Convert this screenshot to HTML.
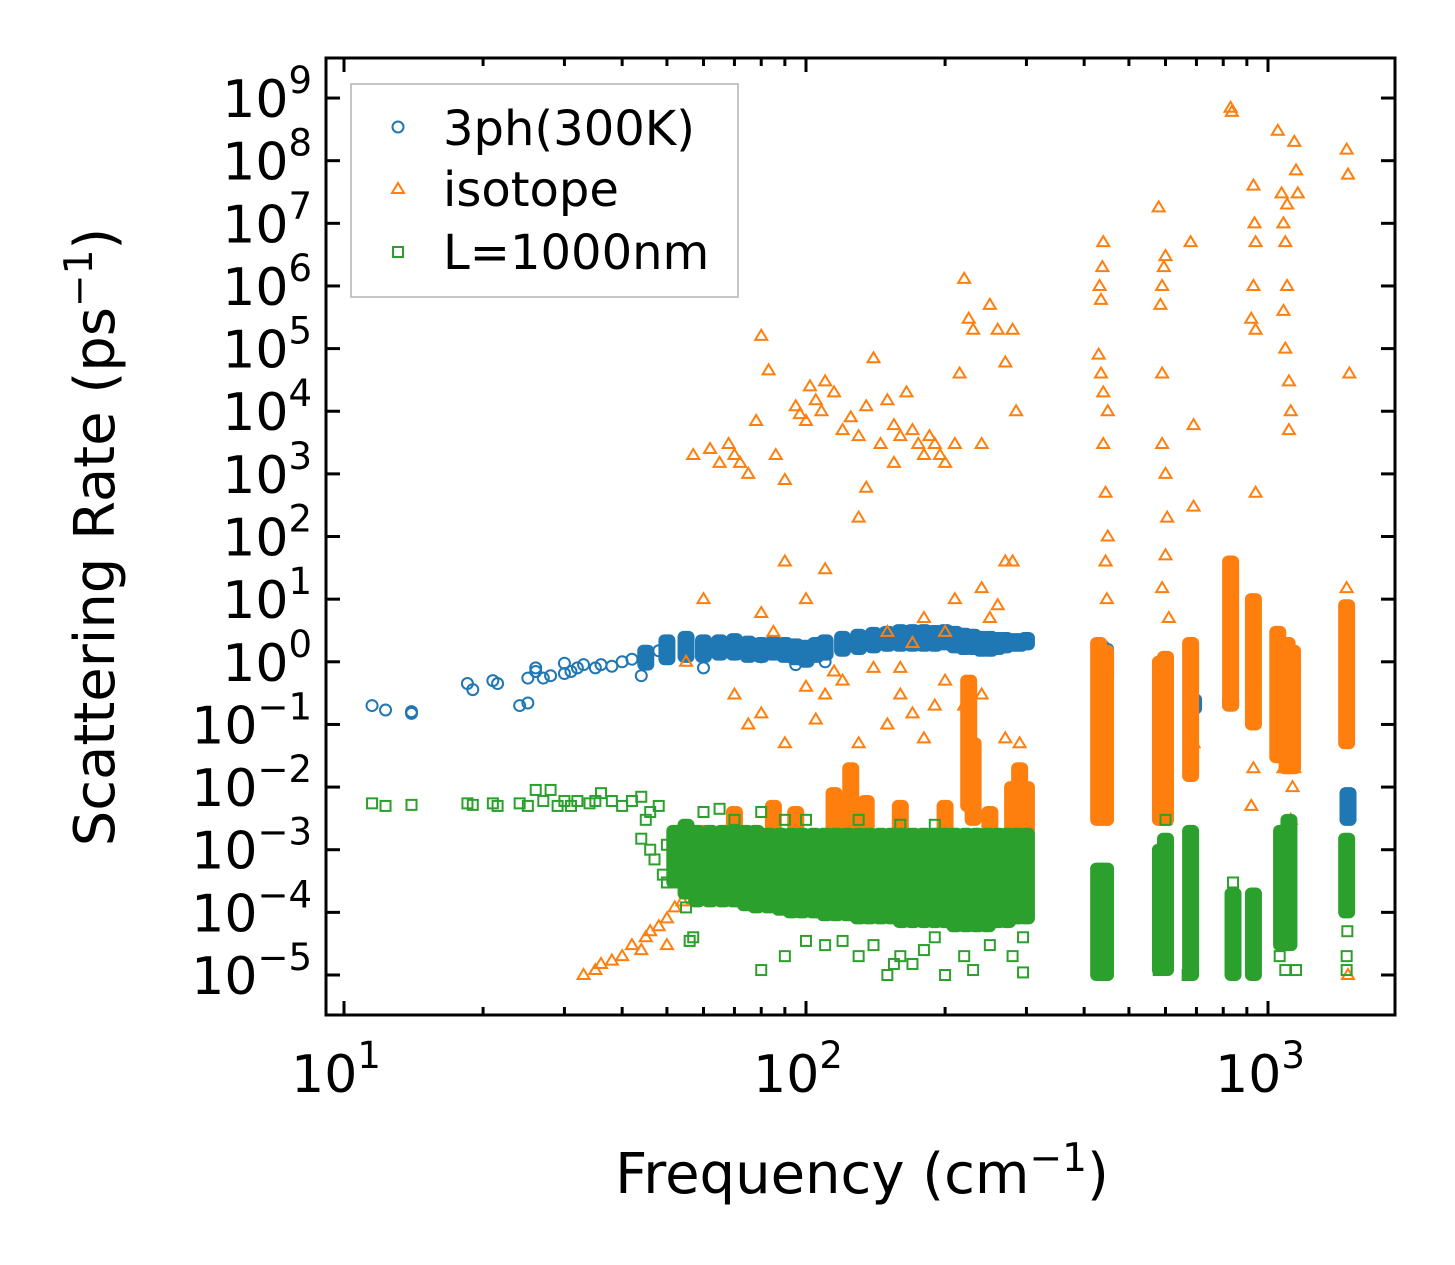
<!DOCTYPE html>
<html><head><meta charset="utf-8"><style>
body{margin:0;background:#fff}
svg{display:block;font-family:"DejaVu Sans","Liberation Sans",sans-serif}
</style></head><body>
<svg id="chart" width="1455" height="1265" viewBox="0 0 1455 1265">
<rect width="1455" height="1265" fill="#fff"/>
<g id="marks"></g>
<g id="axes"></g>
<rect x="326" y="58" width="1069" height="957" fill="none" stroke="#000" stroke-width="3"/>
<text x="862" y="1193" font-size="56" text-anchor="middle">Frequency (cm<tspan dy="-22" font-size="39">−1</tspan><tspan dy="22">)</tspan></text>
<text transform="translate(114,537) rotate(-90)" font-size="56" text-anchor="middle">Scattering Rate (ps<tspan dy="-22" font-size="39">−1</tspan><tspan dy="22">)</tspan></text>
<g>
<rect x="351" y="84" width="387" height="213" fill="#fff" stroke="#aaa" stroke-width="1.5" opacity="0.9"/>
<circle cx="398" cy="127" r="5.5" fill="none" stroke="#1f77b4" stroke-width="2"/>
<text x="443" y="145" font-size="48">3ph(300K)</text>
<path d="M398,183 L404,193 L392,193 Z" fill="none" stroke="#ff7f0e" stroke-width="2"/>
<text x="443" y="206" font-size="48">isotope</text>
<rect x="393" y="247" width="10" height="10" fill="none" stroke="#2ca02c" stroke-width="2"/>
<text x="443" y="269" font-size="48">L=1000nm</text>
</g>
</svg>
<script>
const xTickExps=[1,2,3];
const yTickExps=[9,8,7,6,5,4,3,2,1,0,-1,-2,-3,-4,-5];
// blue 3ph
const blueFreq=[11.5,12.3,14,14,18.5,19,21,21.5,24,25,25,26,26,27,28,30,30,31,32,33,35,36,38,40,42,44,48,60,80,95,110];
const blueRate=[0.2,0.17,0.16,0.15,0.45,0.36,0.5,0.45,0.2,0.22,0.55,0.7,0.8,0.55,0.6,0.65,0.95,0.7,0.8,0.9,0.8,0.9,0.85,1.0,1.1,0.6,1.5,0.8,1.2,0.9,1.0];
const blueCluster=[[45,0.9,1.5],[50,1.1,2.2],[55,1.2,2.5],[60,1.2,2.2],[65,1.3,2.2],[70,1.3,2.3],[75,1.2,2.1],[80,1.2,2.0],[85,1.3,2.1],[90,1.2,2.0],[95,1.1,1.9],[100,1.0,1.8],[105,1.2,2.0],[110,1.3,2.2],[120,1.5,2.5],[130,1.6,2.7],[140,1.7,2.9],[150,1.8,3.0],[160,1.8,3.2],[170,1.8,3.2],[180,1.8,3.2],[190,1.8,3.1],[200,1.9,3.2],[210,1.7,3.0],[220,1.6,2.8],[230,1.6,2.7],[240,1.5,2.5],[250,1.5,2.5],[260,1.6,2.4],[270,1.7,2.4],[280,1.8,2.3],[290,1.8,2.3],[300,1.9,2.4],[435,0.6,1.8],[445,0.6,1.6],[590,0.4,1.0],[600,0.35,0.9],[690,0.18,0.25],[830,0.2,0.25],[1080,0.6,1.0],[1130,0.6,1.0],[1490,0.003,0.008]];
// orange isotope
const orangeFreq=[57,62,65,68,70,72,75,78,80,83,86,90,95,97,100,102,105,108,110,115,120,125,130,135,140,145,150,155,160,165,170,175,180,185,190,195,200,210,215,220,225,230,240,250,260,270,280,285,135,155,
90,100,110,130,150,160,170,180,200,210,220,240,250,260,270,280,80,85,55,60,70,75,80,90,100,110,120,130,140,150,160,170,180,190,200,240,270,290,115,105,
33,35,36,38,40,42,44,46,48,50,52,54,45,50,55,58,
430,432,435,440,438,435,440,445,450,445,448,440,450,580,590,595,600,585,590,600,605,600,590,610,590,680,690,690,830,835,920,930,935,940,930,940,940,1050,1070,1080,1090,1100,1100,1080,1090,1110,1110,1120,1140,1150,1160,1080,1130,1480,1490,1500,1480,1490,930,935,920,1120,1140,600,690];
const orangeRate=[2e3,2.5e3,1.5e3,3e3,2e3,1.5e3,1e3,7e3,1.6e5,4.5e4,2e3,800,1.2e4,9e3,7e3,2.5e4,1.5e4,1e4,3e4,2e4,5e3,8e3,4e3,1.2e4,7e4,3e3,1.5e4,6e3,4e3,2e4,5e3,3e3,2e3,4e3,3e3,2e3,1.5e3,3e3,4e4,1.3e6,3e5,2e5,3e3,5e5,2e5,6e4,2e5,1e4,600,1.5e3,
40,10,30,200,3,0.8,2,5,3,10,0.2,15,5,8,40,40,6,3,1,10,0.3,0.1,0.15,0.05,0.4,0.3,0.5,0.05,0.8,0.1,0.3,0.15,0.06,0.2,0.5,0.3,0.06,0.05,0.7,0.12,
1e-5,1.2e-5,1.5e-5,1.7e-5,2e-5,3e-5,2.5e-5,5e-5,6e-5,8e-5,1.2e-4,1.5e-4,4e-5,3e-5,2e-4,3e-4,
8e4,1e6,6e5,5e6,2e6,4e4,3e3,500,100,40,10,2e4,1e4,1.8e7,1e6,2e6,3e6,5e5,3e3,1e3,200,50,15,5,4e4,5e6,300,6e3,7e8,6e8,3e5,4e7,1e7,5e6,1e6,2e5,500,3e8,3e7,1e7,5e6,2e7,1e6,4e5,1e5,3e4,5e3,1e4,2e8,7e7,3e7,0.02,0.01,1.5e8,6e7,4e4,15,1e-5,0.02,0.5,0.005,0.003,0.02,0.003,0.05];
const orangeCluster=[[60,2e-4,2e-3],[70,3e-4,4e-3],[85,5e-4,5e-3],[95,5e-4,4e-3],[115,2e-3,8e-3],[125,2e-3,2e-2],[135,2e-3,6e-3],[160,1e-3,5e-3],[200,1e-3,5e-3],[225,5e-3,0.5],[230,3e-3,0.05],[250,1e-3,4e-3],[280,2e-3,1e-2],[290,2e-3,2e-2],[300,2e-3,1e-2],[430,3e-3,2],[445,3e-3,1.5],[585,3e-3,1.0],[600,3e-3,1.2],[680,0.015,2],[830,0.2,40],[930,0.1,10],[1050,0.03,3],[1100,0.02,2],[1130,0.02,1.5],[1480,0.05,8]];
// green boundary
const greenFreq=[11.5,12.3,14,18.5,19,21,21.5,24,25,26,28,27,29,30,31,32,34,35,36,38,40,42,44,46,48,45,44,46,47,50,52,49,50,55,56,57,80,90,100,110,120,130,140,150,155,160,170,180,190,200,220,230,250,280,295,295,75,70,80,90,100,130,160,190,60,65,840,1480,1480,1485,1090,1060,1150,670,580,600];
const greenRate=[5.5e-3,5e-3,5.2e-3,5.5e-3,5.2e-3,5.5e-3,5e-3,5.5e-3,5e-3,9e-3,9e-3,6e-3,5e-3,6e-3,5e-3,6e-3,5.5e-3,6e-3,8e-3,6e-3,5e-3,6e-3,7e-3,4e-3,5e-3,3e-3,1.5e-3,1e-3,7e-4,1.2e-3,8e-4,4e-4,3e-4,1.2e-4,3.5e-5,4e-5,1.2e-5,2e-5,3.5e-5,3e-5,3.5e-5,2e-5,3e-5,1e-5,1.5e-5,2e-5,1.5e-5,2.5e-5,4e-5,1e-5,2e-5,1.2e-5,3e-5,2e-5,1.1e-5,4e-5,3e-4,3e-3,4e-3,3e-3,3e-3,3e-3,2.5e-3,2.5e-3,4e-3,4.5e-3,3e-4,2e-5,1.2e-5,5e-5,1.2e-5,2e-5,1.2e-5,1e-5,1.2e-5,3e-3];
const greenCluster=[[52,3e-4,2e-3],[55,2e-4,2.5e-3],[58,1.5e-4,2e-3],[62,1.5e-4,2e-3],[66,1.5e-4,2e-3],[70,1.5e-4,2e-3],[74,1.3e-4,2e-3],[78,1.2e-4,2e-3],[83,1.2e-4,1.8e-3],[88,1.1e-4,1.8e-3],[93,1e-4,1.8e-3],[98,1e-4,1.8e-3],[104,1e-4,1.8e-3],[110,9e-5,1.8e-3],[116,9e-5,1.8e-3],[123,9e-5,1.8e-3],[130,8e-5,1.8e-3],[137,8e-5,1.8e-3],[145,8e-5,1.8e-3],[153,8e-5,1.8e-3],[161,7e-5,1.8e-3],[170,7e-5,1.8e-3],[180,7e-5,1.8e-3],[190,7e-5,1.8e-3],[200,7e-5,1.8e-3],[210,6e-5,1.8e-3],[222,6e-5,1.8e-3],[234,6e-5,1.8e-3],[247,6e-5,1.8e-3],[260,7e-5,1.8e-3],[273,7e-5,1.8e-3],[287,8e-5,1.8e-3],[300,8e-5,1.8e-3],[430,1e-5,5e-4],[445,1e-5,5e-4],[585,1.2e-5,1e-3],[600,1.2e-5,1.5e-3],[680,1e-5,2e-3],[840,1e-5,2e-4],[930,1e-5,2e-4],[1070,3e-5,2e-3],[1110,3e-5,3e-3],[1480,1e-4,1.5e-3]];

const NS='http://www.w3.org/2000/svg';
function X(f){return 344+462*(Math.log10(f)-1);}
function Y(v){return 975-62.64*(Math.log10(v)+5);}
const marks=document.getElementById('marks');
const axes=document.getElementById('axes');
function mk(tag,attrs,parent){const e=document.createElementNS(NS,tag);for(const k in attrs)e.setAttribute(k,attrs[k]);parent.appendChild(e);return e;}
const C={b:'#1f77b4',o:'#ff7f0e',g:'#2ca02c'};
function cluster(arr,color,name){
  arr.forEach(c=>{
    const x=X(c[0]),y1=Y(c[2]),y2=Y(c[1]);
    const r=mk('rect',{x:x-8.5,y:y1-6,width:17,height:(y2-y1)+12,rx:6,fill:color},marks);
    
    
  });
}
function circle(f,v){const e=mk('circle',{cx:X(f),cy:Y(v),r:5.5,fill:'none',stroke:C.b,'stroke-width':2},marks);
  
  }
function tri(f,v){const x=X(f),y=Y(v);const e=mk('path',{d:`M${x},${y-6} L${x+6},${y+4} L${x-6},${y+4} Z`,fill:'none',stroke:C.o,'stroke-width':2},marks);
  
  }
function sq(f,v){const x=X(f),y=Y(v);const e=mk('rect',{x:x-5,y:y-5,width:10,height:10,fill:'none',stroke:C.g,'stroke-width':2},marks);
  
  }
cluster(blueCluster,C.b,'cluster-3ph');
blueFreq.forEach((f,i)=>circle(f,blueRate[i]));
cluster(orangeCluster,C.o,'cluster-isotope');
orangeFreq.forEach((f,i)=>tri(f,orangeRate[i]));
cluster(greenCluster,C.g,'cluster-boundary');
greenFreq.forEach((f,i)=>sq(f,greenRate[i]));

// x ticks
for(let d=0;d<=3;d++){
  for(let m=1;m<10;m++){
    const f=m*Math.pow(10,d);const x=X(f);
    if(x<327||x>1394)continue;
    const L=m===1?14:8;
    const t1=mk('line',{x1:x,x2:x,y1:1015,y2:1015-L,stroke:'#000','stroke-width':3},axes);
    
    
    const t2=mk('line',{x1:x,x2:x,y1:58,y2:58+L,stroke:'#000','stroke-width':3},axes);
    
    
  }
}
xTickExps.forEach(e=>{
  const t=mk('text',{x:X(Math.pow(10,e))-8,y:1092,'font-size':52,'text-anchor':'middle'},axes);
  
  
  t.innerHTML='10<tspan dy="-24" font-size="37">'+e+'</tspan>';
});
yTickExps.forEach(e=>{
  const y=Y(Math.pow(10,e));
  const a=mk('line',{x1:326,x2:340,y1:y,y2:y,stroke:'#000','stroke-width':3},axes);
  
  
  const b=mk('line',{x1:1381,x2:1395,y1:y,y2:y,stroke:'#000','stroke-width':3},axes);
  
  
  const t=mk('text',{x:312,y:y+19,'font-size':52,'text-anchor':'end'},axes);
  
  
  const s=e<0?'−'+(-e):''+e;
  t.innerHTML='10<tspan dy="-24" font-size="37">'+s+'</tspan>';
});
</script>
</body></html>
